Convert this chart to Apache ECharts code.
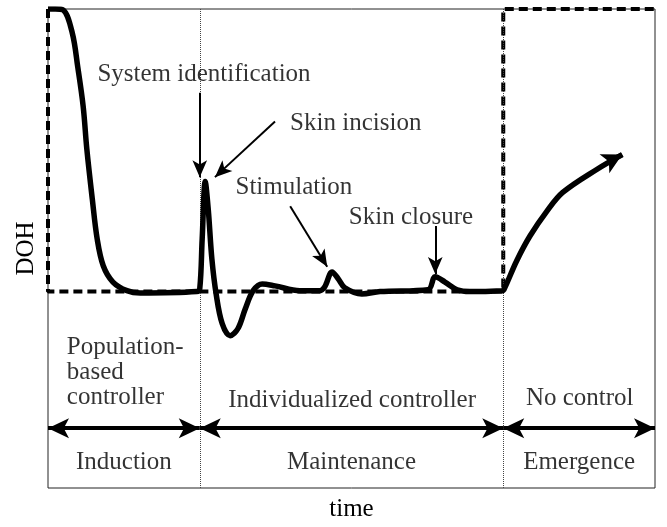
<!DOCTYPE html>
<html>
<head>
<meta charset="utf-8">
<script src="https://cdn.jsdelivr.net/npm/echarts@6/dist/echarts.min.js"></script>
<style>
  html, body { margin: 0; padding: 0; background: #fff; }
  #chart { width: 667px; height: 527px; }
</style>
</head>
<body>
<div id="chart"></div>
<script>
  // DOH trajectory over time (arbitrary units, 0-100 on both axes)
  var curveT = [0, 1.2, 2.5, 4.0, 4.9, 5.8, 6.4, 7.3, 8.1, 9.1, 10.7, 13.0, 15.2, 24.5,
    25.0, 25.4, 25.9, 26.4, 27.0, 27.7, 28.7, 30.0, 31.3, 32.5, 33.8, 35.3, 37.4, 41.5,
    44.8, 45.6, 46.8, 47.8, 48.9, 51.7, 54.7, 62.6, 63.8, 65.4, 67.4, 69.5, 74.8,
    75.1, 77.2, 79.4, 82.2, 84.8, 90.4, 94.6];
  var curveDoh = [100, 100, 99.8, 95.0, 87.9, 79.6, 70.7, 60.3, 52.0, 46.4, 43.0, 41.2, 40.7, 41.0,
    41.6, 52.0, 64.0, 58.2, 47.8, 40.5, 34.3, 31.8, 33.3, 37.4, 41.2, 42.6, 42.2, 41.2,
    41.2, 42.0, 45.1, 43.7, 41.8, 40.5, 41.0, 41.4, 44.1, 43.0, 41.4, 41.0, 41.2,
    41.4, 47.4, 52.6, 57.8, 61.7, 66.5, 69.6];

  // target DOH (dashed)
  var targetT = [0, 0, 75, 75, 100];
  var targetDoh = [100, 41, 41, 100, 100];

  // phases
  var phaseBounds = [0, 25, 75, 100];
  var phaseNames = ['Induction', 'Maintenance', 'Emergence'];
  var controllerNames = ['Population-\nbased\ncontroller', 'Individualized controller', 'No control'];

  // events
  var eventNames = ['System identification', 'Skin incision', 'Stimulation', 'Skin closure'];

  // ---- layout of the annotations (data coords) ----
  var eventLabelAt = [[25.7, 86.3], [50.7, 76.1], [40.5, 62.8], [59.8, 56.5]];
  var eventArrowFrom = [[25.0, 82.5], [37.4, 76.5], [39.9, 58.8], [63.8, 54.7]];
  var eventArrowTo = [[25.0, 64.9], [27.5, 64.9], [46.0, 46.2], [63.8, 44.7]];
  var controllerLabelAt = [[3.1, 29.3], [50.1, 18.3], [87.6, 18.7]];
  var lineStep = 5.2; // one text line in DOH units
  var phaseLabelY = 5.4;
  var phaseArrowY = 12.5;

  var textStyle = { fontFamily: 'Liberation Serif', fontSize: 25, color: '#000' };

  function labelStyle(extra) {
    return Object.assign({ show: true, position: 'inside', formatter: '{b}' }, textStyle, extra || {});
  }

  var labelData = [];
  var leftLabelData = [];
  eventNames.forEach(function (n, i) {
    labelData.push({ value: eventLabelAt[i], name: n });
  });
  controllerNames.forEach(function (n, i) {
    if (i === 0) {
      // left aligned, one item per line
      n.split('\n').forEach(function (line, k) {
        leftLabelData.push({ value: [controllerLabelAt[0][0], controllerLabelAt[0][1] - k * lineStep], name: line });
      });
    } else {
      labelData.push({ value: controllerLabelAt[i], name: n });
    }
  });
  phaseNames.forEach(function (n, i) {
    labelData.push({ value: [(phaseBounds[i] + phaseBounds[i + 1]) / 2, phaseLabelY], name: n });
  });

  var eventArrows = eventNames.map(function (n, i) {
    return [{ coord: eventArrowFrom[i] }, { coord: eventArrowTo[i] }];
  });
  var phaseArrows = phaseNames.map(function (n, i) {
    return [{ coord: [phaseBounds[i], phaseArrowY] }, { coord: [phaseBounds[i + 1], phaseArrowY] }];
  });

  var chart = echarts.init(document.getElementById('chart'));
  chart.setOption({
    animation: false,
    grid: { left: 48, right: 12, top: 9, bottom: 37, show: true, borderColor: '#222', borderWidth: 1 },
    xAxis: {
      type: 'value', min: 0, max: 100,
      axisLine: { show: false }, axisTick: { show: false }, axisLabel: { show: false }, splitLine: { show: false },
      name: 'time', nameLocation: 'middle', nameGap: 9,
      nameTextStyle: textStyle
    },
    yAxis: {
      type: 'value', min: 0, max: 100,
      axisLine: { show: false }, axisTick: { show: false }, axisLabel: { show: false }, splitLine: { show: false },
      name: 'DOH', nameLocation: 'middle', nameGap: 9,
      nameTextStyle: textStyle
    },
    series: [
      {
        name: 'phases', type: 'line', data: [], silent: true,
        markLine: {
          silent: true, symbol: 'none', label: { show: false },
          lineStyle: { type: 'dotted', color: '#444', width: 1 },
          data: [{ xAxis: phaseBounds[1] }, { xAxis: phaseBounds[2] }]
        }
      },
      {
        name: 'target', type: 'line', showSymbol: false, clip: false, silent: true,
        data: targetT.map(function (t, i) { return [t, targetDoh[i]]; }),
        lineStyle: { color: '#000', width: 4, type: [9, 5] }
      },
      {
        name: 'DOH', type: 'line', showSymbol: false, smooth: 0.35, silent: true, z: 5,
        data: curveT.map(function (t, i) { return [t, curveDoh[i]]; }),
        lineStyle: { color: '#000', width: 5.5 },
        markLine: {
          silent: true, symbol: ['none', 'arrow'], symbolSize: [16, 20], label: { show: false },
          lineStyle: { color: '#000', width: 5, type: 'solid' },
          data: [[{ coord: [92.3, 68.1] }, { coord: [curveT[curveT.length - 1], curveDoh[curveDoh.length - 1]] }]]
        }
      },
      {
        name: 'labels', type: 'scatter', symbolSize: 0, silent: true, z: 6,
        data: labelData,
        label: labelStyle(),
        markLine: {
          silent: true, label: { show: false },
          symbol: ['none', 'arrow'], symbolSize: [11, 17],
          lineStyle: { color: '#000', width: 2, type: 'solid' },
          data: eventArrows
        }
      },
      {
        name: 'inductionLabel', type: 'scatter', symbolSize: 0, silent: true, z: 6,
        data: leftLabelData,
        label: labelStyle({ align: 'left' })
      },
      {
        name: 'phaseArrows', type: 'line', data: [], silent: true,
        markLine: {
          silent: true, label: { show: false },
          symbol: ['arrow', 'arrow'], symbolSize: [15, 21],
          lineStyle: { color: '#000', width: 4, type: 'solid' },
          data: phaseArrows
        }
      }
    ]
  });
</script>
</body>
</html>
